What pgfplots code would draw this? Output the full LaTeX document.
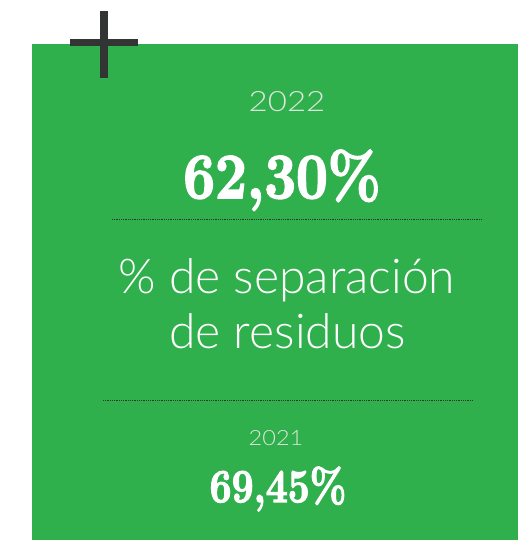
\documentclass[border=0pt]{standalone}
\usepackage{fontspec}
\usepackage{graphicx}
\usepackage{pgfplots}
\pgfplotsset{compat=1.18}
\setmainfont{Lato Light}
\newfontfamily\numfont{Latin Modern Roman}[BoldFeatures={FakeBold=3}]
\definecolor{bggreen}{HTML}{2FB04C}
\definecolor{crossgray}{HTML}{333535}
\definecolor{dotgray}{HTML}{2E332E}
\definecolor{yeargray}{HTML}{DDE6DD}
\begin{document}
\begin{tikzpicture}
\begin{axis}[
  name=ax,
  scale only axis,
  width=518pt, height=540pt,
  xmin=0, xmax=518, ymin=0, ymax=540,
  y dir=reverse,
  hide axis,
  clip=false,
]
% green panel
\addplot[fill=bggreen, draw=none] coordinates {(32,44) (518,44) (518,540) (32,540)} -- cycle;
% cross
\addplot[crossgray, line width=7.5pt, line cap=butt] coordinates {(104,11) (104,78)};
\addplot[crossgray, line width=7pt, line cap=butt] coordinates {(70,42.5) (138,42.5)};
% dotted rules
\addplot[dotgray, line width=1pt, dash pattern=on 1pt off 0.8pt] coordinates {(112,219) (482,219)};
\addplot[dotgray, line width=1pt, dash pattern=on 1pt off 0.8pt] coordinates {(103,400) (473,400)};
% texts
\node[anchor=base, text=yeargray, font=\fontsize{28}{30}\selectfont] at (axis cs:287,112) {\scalebox{1.18}[1]{2022}};
\node[anchor=base, text=white, font=\fontsize{64}{70}\selectfont\numfont\bfseries] at (axis cs:282,198) {\scalebox{0.88}[1]{62,30\%}};
\node[anchor=base, text=white, font=\fontsize{48}{52}\selectfont] at (axis cs:287,293) {\% de separación};
\node[anchor=base, text=white, font=\fontsize{48}{52}\selectfont] at (axis cs:287.5,348) {de residuos};
\node[anchor=base, text=yeargray, font=\fontsize{21}{24}\selectfont] at (axis cs:276,445) {\scalebox{1.12}[1]{2021}};
\node[anchor=base, text=white, font=\fontsize{47}{52}\selectfont\numfont\bfseries] at (axis cs:278,502) {\scalebox{0.83}[1]{69,45\%}};
\end{axis}
\pgfresetboundingbox
\path (ax.south west) rectangle (ax.north east);
\end{tikzpicture}
\end{document}
